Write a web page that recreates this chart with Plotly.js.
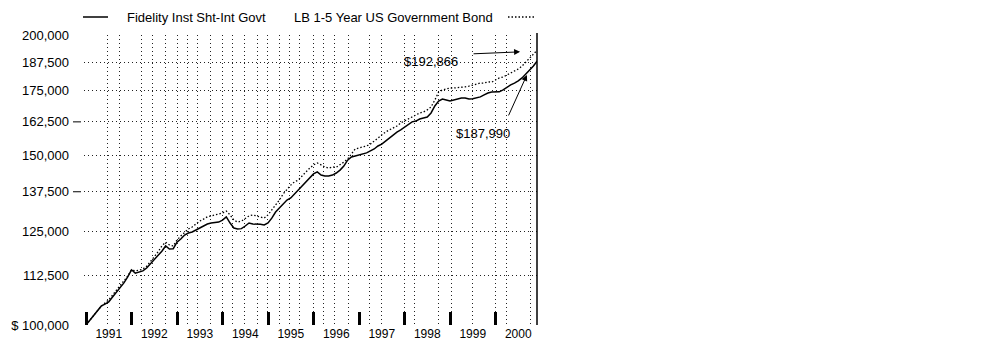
<!DOCTYPE html>
<html>
<head>
<meta charset="utf-8">
<script src="https://cdn.plot.ly/plotly-3.0.1.min.js"></script>
<style>html,body{margin:0;padding:0;background:#fff;}#chart{width:983px;height:352px;}</style>
</head>
<body>
<div id="chart"></div>
<script>
// ---- data (month-end values, Dec 1990 .. Nov 2000) ----
const startYear = 1991.0;   // first month-end (Dec 31, 1990)
const fidelity = [100000,101200,102400,103400,104600,105100,105700,106900,108200,109200,
110600,112200,114100,113200,113500,113800,114600,115700,117100,118200,
119300,120800,119900,120000,121900,122800,124000,124600,124900,125500,
126100,126700,127300,127600,127700,127900,128500,129500,127600,126100,
125800,125900,126700,127600,127300,127300,127200,127000,127600,129100,
131000,132300,133500,134800,135500,136800,138100,139700,141100,142400,
143500,144200,143100,142800,142800,143100,143800,144800,146200,148300,
149400,149800,150100,150500,150900,151600,152300,153400,154100,155200,
156400,157500,158600,159400,160500,161700,162500,162800,163600,164000,
164400,166000,168800,170800,171600,171200,170800,171200,171600,172000,
172000,171600,171700,172000,172500,173300,174100,174500,174500,174600,
175400,176600,177500,178300,179200,180500,182200,183950,185700,187990];
const lbBond = [100000,101200,102400,103400,104600,105400,106200,107400,108700,109800,
111100,112400,114100,113800,114000,114300,115100,116300,117700,119100,
120800,121900,121100,120800,122500,123700,124900,125800,126400,127300,
128200,128800,129500,129800,130100,130400,130700,131300,130100,128500,
127900,128200,129100,129800,130100,129800,129500,129100,130100,131600,
133200,134800,136800,138400,139700,140800,141400,142800,144200,145500,
146600,147300,146600,145900,145500,145900,145800,146600,147600,148700,
150500,152300,152700,153000,153400,154100,155200,156400,157500,158600,
159400,160100,160900,162100,162800,163600,164400,165200,166000,166400,
167200,168400,171200,174500,175400,175800,176200,176200,176300,176600,
176700,177000,177500,177900,178300,178300,178800,178700,179600,180500,
180900,181800,182600,183500,184400,185700,187500,188900,190700,192866];
const seriesNames = ['Fidelity Inst Sht-Int Govt', 'LB 1-5 Year US Government Bond'];
const yTickVals = [100000,112500,125000,137500,150000,162500,175000,187500,200000];
const yTickText = ['$ 100,000','112,500','125,000','137,500','150,000','162,500','175,000','187,500','200,000'];
const yearStarts = [1991,1992,1993,1994,1995,1996,1997,1998,1999,2000];
const yearLabels = ['1991','1992','1993','1994','1995','1996','1997','1998','1999','2000'];
const vGrid = [1990.958,1991.48,1991.73,1992.23,1992.47,1992.74,1993.0,1993.22,1993.46,1993.73,
  1994.0,1994.23,1994.49,1994.76,1994.98,1995.26,1995.48,1995.70,1996.0,1996.21,1996.47,1996.76,
  1997.24,1997.5,1998.01,1998.23,1998.74,1999.04,1999.5,1999.99,2000.25,2000.76];
const endLabels = ['$192,866', '$187,990'];

// ---- build ----
const months = fidelity.map((_, i) => startYear + i / 12);
const FONT = 'Arial, "Liberation Sans", sans-serif';
const xRange = [1990.956, 2000.912];
const L = 84, R = 537, T = 35, B = 325;
const px = x => (x - L) / (R - L);           // pixel -> paper x
const py = y => (B - y) / (B - T);           // pixel -> paper y
const lg = v => Math.log10(v);                // annotation coords on a log axis

const traces = [
  {x: months, y: lbBond, name: seriesNames[1], type: 'scatter', mode: 'lines',
   line: {color: '#000', width: 1.3, dash: '1.5px,2px'}, hoverinfo: 'x+y'},
  {x: months, y: fidelity, name: seriesNames[0], type: 'scatter', mode: 'lines',
   line: {color: '#000', width: 1.5}, hoverinfo: 'x+y'},
  {x: [], y: [], xaxis: 'x2', showlegend: false, hoverinfo: 'skip'}
];

const gridDash = '1px,3px';
const layout = {
  width: 983, height: 352,
  margin: {l: L, r: 983 - R, t: T, b: 352 - B},
  paper_bgcolor: '#fff', plot_bgcolor: '#fff',
  showlegend: false,
  font: {family: FONT, size: 13, color: '#000'},
  xaxis: {
    range: xRange, showgrid: false, zeroline: false, showline: false,
    tickmode: 'array', tickvals: yearStarts, ticks: 'inside', ticklen: 13, tickwidth: 3,
    tickcolor: '#000', showticklabels: false,
    minor: {tickmode: 'array', tickvals: vGrid, showgrid: true, gridcolor: '#222',
            gridwidth: 1, griddash: gridDash, ticks: ''}
  },
  xaxis2: {
    overlaying: 'x', anchor: 'y', side: 'bottom', range: xRange,
    showgrid: false, zeroline: false, showline: false, ticks: '',
    tickmode: 'array', tickvals: yearStarts.map(v => v + 0.5), ticktext: yearLabels,
    tickfont: {family: FONT, size: 12, color: '#000'}
  },
  yaxis: {
    type: 'log', range: [Math.log10(100000), Math.log10(200000)],
    showgrid: false, zeroline: false, showline: false,
    tickmode: 'array', tickvals: yTickVals, ticktext: yTickText, ticks: '',
    ticklabelstandoff: 14,
    tickfont: {family: FONT, size: 13, color: '#000'},
    minor: {tickmode: 'array', tickvals: yTickVals.slice(1), showgrid: true, gridcolor: '#222',
            gridwidth: 1, griddash: gridDash, ticks: ''}
  },
  shapes: [
    // right frame line
    {type: 'line', xref: 'paper', yref: 'paper', x0: 1, x1: 1, y0: 0, y1: py(33),
     line: {color: '#000', width: 1.5}},
    // small tick dashes at 137,500 and 162,500
    {type: 'line', xref: 'paper', yref: 'y', x0: px(73), x1: px(81), y0: 137500, y1: 137500,
     line: {color: '#000', width: 1}},
    {type: 'line', xref: 'paper', yref: 'y', x0: px(73), x1: px(81), y0: 162500, y1: 162500,
     line: {color: '#000', width: 1}},
    // legend samples
    {type: 'line', xref: 'paper', yref: 'paper', x0: px(83), x1: px(108), y0: py(17), y1: py(17),
     line: {color: '#000', width: 1.5}},
    {type: 'line', xref: 'paper', yref: 'paper', x0: px(508), x1: px(535), y0: py(17), y1: py(17),
     line: {color: '#000', width: 1.3, dash: '1.5px,2px'}}
  ],
  annotations: [
    {xref: 'paper', yref: 'paper', x: px(125), y: py(17), xanchor: 'left', yanchor: 'middle',
     text: seriesNames[0], showarrow: false, font: {family: FONT, size: 13, color: '#000'}},
    {xref: 'paper', yref: 'paper', x: px(292), y: py(17), xanchor: 'left', yanchor: 'middle',
     text: seriesNames[1], showarrow: false, font: {family: FONT, size: 13, color: '#000'}},
    // end value labels
    {xref: 'x', yref: 'y', x: 1998.58, y: lg(187950), text: endLabels[0], showarrow: false,
     font: {family: FONT, size: 13, color: '#000'}},
    {xref: 'x', yref: 'y', x: 1999.73, y: lg(158200), text: endLabels[1], showarrow: false,
     font: {family: FONT, size: 13, color: '#000'}},
    // arrows
    {xref: 'x', yref: 'y', x: 2000.54, y: lg(192100), text: '', showarrow: true,
     ax: -48, ay: 2, arrowhead: 2, arrowsize: 1.2, arrowwidth: 1, arrowcolor: '#000'},
    {xref: 'x', yref: 'y', x: 2000.69, y: lg(181800), text: '', showarrow: true,
     ax: -19, ay: 42, arrowhead: 2, arrowsize: 1.2, arrowwidth: 1, arrowcolor: '#000'}
  ]
};

Plotly.newPlot('chart', traces, layout, {displayModeBar: false, staticPlot: true});
</script>
</body>
</html>
